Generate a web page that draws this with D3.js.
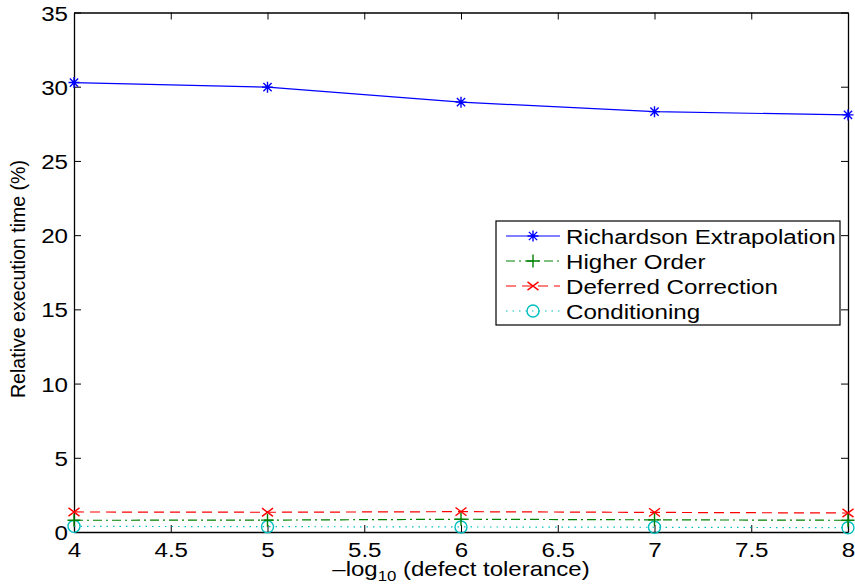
<!DOCTYPE html>
<html><head><meta charset="utf-8">
<script src="https://cdn.jsdelivr.net/npm/d3@7"></script>
<style>body{margin:0;background:#fff}svg{display:block}text{font-family:"Liberation Sans",Arial,Helvetica,sans-serif}</style>
</head><body>
<svg id="c" width="855" height="584"></svg>
<script>
const xValues = [4, 5, 6, 7, 8];
const richardson = [30.28, 29.97, 28.96, 28.32, 28.10];
const higherOrder = [0.79, 0.80, 0.86, 0.82, 0.79];
const deferred = [1.35, 1.33, 1.37, 1.32, 1.28];
const conditioning = [0.38, 0.36, 0.34, 0.32, 0.29];
const seriesNames = ["Richardson Extrapolation", "Higher Order", "Deferred Correction", "Conditioning"];
const xTicks = [4, 4.5, 5, 5.5, 6, 6.5, 7, 7.5, 8];
const yTicks = [0, 5, 10, 15, 20, 25, 30, 35];

const svg = d3.select("#c");
const L = 74, R = 848, T = 12.5, B = 532;
const x = d3.scaleLinear().domain([4, 8]).range([L, R]);
const y = d3.scaleLinear().domain([0, 35]).range([B, T]);
const SX = 1.15;

function stretch(sel, s) {
  sel.each(function() {
    const t = d3.select(this);
    const ax = +t.attr("x") || 0;
    t.attr("transform", `translate(${ax},0) scale(${s},1) translate(${-ax},0)`);
  });
}

const series = [
  {name: seriesNames[0], vals: richardson, color: "#0000ff", dash: null, marker: "star"},
  {name: seriesNames[1], vals: higherOrder, color: "#008000", dash: "9,4,2,4", marker: "plus"},
  {name: seriesNames[2], vals: deferred, color: "#ff0000", dash: "10,6", marker: "cross"},
  {name: seriesNames[3], vals: conditioning, color: "#00bfbf", dash: "1.5,5", marker: "circle"}
];

const fs = 21;
const gx = svg.append("g").attr("transform", `translate(0,${B})`)
  .call(d3.axisBottom(x).tickValues(xTicks).tickSizeInner(-7).tickSizeOuter(0).tickPadding(10).tickFormat(d3.format("")));
const gxt = svg.append("g").attr("transform", `translate(0,${T})`)
  .call(d3.axisTop(x).tickValues(xTicks).tickSizeInner(-7).tickSizeOuter(0).tickFormat(""));
const gy = svg.append("g").attr("transform", `translate(${L},0)`)
  .call(d3.axisLeft(y).tickValues(yTicks).tickSizeInner(-7).tickSizeOuter(0).tickPadding(6));
const gyr = svg.append("g").attr("transform", `translate(${R},0)`)
  .call(d3.axisRight(y).tickValues(yTicks).tickSizeInner(-7).tickSizeOuter(0).tickFormat(""));
[gx, gxt, gy, gyr].forEach(g => {
  g.select(".domain").attr("stroke", "#000").attr("stroke-width", 1.3);
  g.selectAll(".tick line").attr("stroke", "#000").attr("stroke-width", 1);
  g.selectAll("text").attr("font-size", fs).attr("fill", "#000").style("font-family", '"Liberation Sans",Arial,sans-serif');
});
gy.selectAll(".tick text").attr("dy", "0.36em");
stretch(gx.selectAll(".tick text"), SX);
stretch(gy.selectAll(".tick text"), SX);

function drawMarker(g, type, cx, cy, color) {
  const s = 5.5;
  if (type === "star") {
    const d = `M${cx-s},${cy}L${cx+s},${cy}M${cx},${cy-s}L${cx},${cy+s}M${cx-s*0.75},${cy-s*0.75}L${cx+s*0.75},${cy+s*0.75}M${cx-s*0.75},${cy+s*0.75}L${cx+s*0.75},${cy-s*0.75}`;
    g.append("path").attr("d", d).attr("stroke", color).attr("stroke-width", 1.4).attr("fill", "none");
  } else if (type === "plus") {
    g.append("path").attr("d", `M${cx-s-1},${cy}L${cx+s+1},${cy}M${cx},${cy-s-1}L${cx},${cy+s+1}`).attr("stroke", color).attr("stroke-width", 1.4);
  } else if (type === "cross") {
    g.append("path").attr("d", `M${cx-s},${cy-s*0.75}L${cx+s},${cy+s*0.75}M${cx-s},${cy+s*0.75}L${cx+s},${cy-s*0.75}`).attr("stroke", color).attr("stroke-width", 1.4);
  } else {
    g.append("circle").attr("cx", cx).attr("cy", cy).attr("r", 6).attr("stroke", color).attr("stroke-width", 1.4).attr("fill", "none");
  }
}

const line = d3.line().x((d, i) => x(xValues[i])).y(d => y(d));
const plot = svg.append("g");
series.slice().reverse().forEach(s => {
  plot.append("path").datum(s.vals).attr("d", line).attr("fill", "none")
    .attr("stroke", s.color).attr("stroke-width", 1.2).attr("stroke-dasharray", s.dash);
  s.vals.forEach((v, i) => drawMarker(plot, s.marker, x(xValues[i]), y(v), s.color));
});

// x label
const xl = svg.append("text").attr("x", 461).attr("y", 576).attr("text-anchor", "middle").attr("font-size", 20)
  .html('\u2013log<tspan font-size="14" dy="5">10</tspan><tspan dy="-5"> (defect tolerance)</tspan>');
xl.attr("transform", `translate(461,0) scale(1.2,1) translate(-461,0)`);
// y label
svg.append("text").attr("transform", "translate(25,279) rotate(-90)").attr("text-anchor", "middle").attr("font-size", 20)
  .attr("textLength", 238).attr("lengthAdjust", "spacingAndGlyphs")
  .text("Relative execution time (%)");

// legend
const lg = svg.append("g");
lg.append("rect").attr("x", 496).attr("y", 221).attr("width", 344).attr("height", 104)
  .attr("fill", "#fff").attr("stroke", "#000").attr("stroke-width", 1.2);
series.forEach((s, i) => {
  const cy = 236 + i * 25;
  lg.append("line").attr("x1", 506).attr("x2", 560).attr("y1", cy).attr("y2", cy)
    .attr("stroke", s.color).attr("stroke-width", 1.2).attr("stroke-dasharray", s.dash);
  drawMarker(lg, s.marker, 533, cy, s.color);
  const t = lg.append("text").attr("x", 566).attr("y", cy).attr("dy", "0.36em").attr("font-size", fs).text(s.name);
  stretch(t, SX);
});
</script>
</body></html>
